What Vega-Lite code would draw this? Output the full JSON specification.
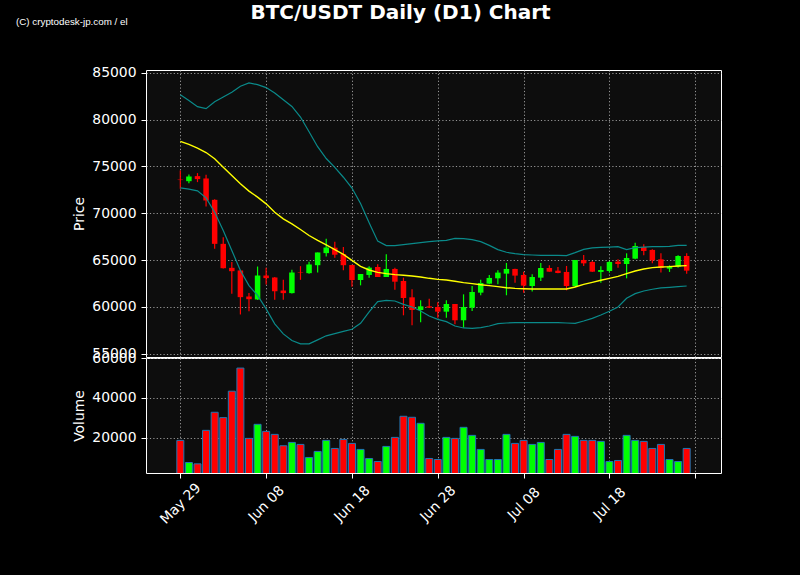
{
  "$schema": "https://vega.github.io/schema/vega-lite/v6.json",
  "background": "black",
  "padding": {"left": 15, "top": 2, "right": 80, "bottom": 50},
  "title": {
    "text": "BTC/USDT Daily (D1) Chart",
    "color": "white",
    "font": "DejaVu Sans",
    "fontSize": 20,
    "fontWeight": "bold",
    "anchor": "middle",
    "frame": "bounds",
    "dx": 32,
    "offset": -6
  },
  "datasets": {
    "ohlc": [
      {"date": "2024-05-29", "open": 73600, "high": 74570, "low": 72620, "close": 73550, "volume": 18570, "upper": 82650, "mid": 77680, "lower": 72720},
      {"date": "2024-05-30", "open": 73430, "high": 74150, "low": 73220, "close": 73930, "volume": 7430, "upper": 82040, "mid": 77350, "lower": 72580},
      {"date": "2024-05-31", "open": 73970, "high": 74290, "low": 73330, "close": 73650, "volume": 6750, "upper": 81390, "mid": 76960, "lower": 72400},
      {"date": "2024-06-01", "open": 73720, "high": 74110, "low": 70730, "close": 71370, "volume": 23630, "upper": 81170, "mid": 76490, "lower": 71650},
      {"date": "2024-06-02", "open": 71440, "high": 71500, "low": 66210, "close": 66740, "volume": 32740, "upper": 81900, "mid": 75820, "lower": 70120},
      {"date": "2024-06-03", "open": 66740, "high": 67450, "low": 64100, "close": 64140, "volume": 30040, "upper": 82420, "mid": 74930, "lower": 68170},
      {"date": "2024-06-04", "open": 64180, "high": 64790, "low": 61400, "close": 63820, "volume": 43370, "upper": 82930, "mid": 74040, "lower": 66030},
      {"date": "2024-06-05", "open": 63900, "high": 63970, "low": 59200, "close": 61050, "volume": 55020, "upper": 83560, "mid": 73150, "lower": 63900},
      {"date": "2024-06-06", "open": 61120, "high": 61480, "low": 59550, "close": 60830, "volume": 19580, "upper": 83930, "mid": 72370, "lower": 62290},
      {"date": "2024-06-07", "open": 60800, "high": 64320, "low": 60760, "close": 63360, "volume": 26670, "upper": 83740, "mid": 71730, "lower": 61230},
      {"date": "2024-06-08", "open": 63360, "high": 64180, "low": 62400, "close": 63080, "volume": 23120, "upper": 83420, "mid": 71010, "lower": 59800},
      {"date": "2024-06-09", "open": 63150, "high": 63200, "low": 60760, "close": 61690, "volume": 21600, "upper": 82850, "mid": 70120, "lower": 58200},
      {"date": "2024-06-10", "open": 61760, "high": 62900, "low": 60760, "close": 61480, "volume": 15860, "upper": 82120, "mid": 69410, "lower": 57130},
      {"date": "2024-06-11", "open": 61480, "high": 63970, "low": 61450, "close": 63680, "volume": 17550, "upper": 81410, "mid": 68880, "lower": 56420},
      {"date": "2024-06-12", "open": 63700, "high": 64360, "low": 62900, "close": 63650, "volume": 16540, "upper": 80280, "mid": 68270, "lower": 56070},
      {"date": "2024-06-13", "open": 63610, "high": 64820, "low": 63540, "close": 64540, "volume": 9960, "upper": 78700, "mid": 67630, "lower": 56070},
      {"date": "2024-06-14", "open": 64460, "high": 65820, "low": 63680, "close": 65820, "volume": 13000, "upper": 77110, "mid": 67100, "lower": 56490},
      {"date": "2024-06-15", "open": 65750, "high": 67280, "low": 65390, "close": 66350, "volume": 18570, "upper": 75850, "mid": 66640, "lower": 56920},
      {"date": "2024-06-16", "open": 66330, "high": 66960, "low": 65250, "close": 65580, "volume": 14510, "upper": 74900, "mid": 66130, "lower": 57150},
      {"date": "2024-06-17", "open": 65650, "high": 66400, "low": 63920, "close": 64460, "volume": 19070, "upper": 73850, "mid": 65610, "lower": 57390},
      {"date": "2024-06-18", "open": 64480, "high": 64500, "low": 62170, "close": 62880, "volume": 17050, "upper": 72700, "mid": 64980, "lower": 57620},
      {"date": "2024-06-19", "open": 62880, "high": 63520, "low": 62310, "close": 63520, "volume": 14010, "upper": 71040, "mid": 64340, "lower": 58260},
      {"date": "2024-06-20", "open": 63420, "high": 64340, "low": 63130, "close": 64200, "volume": 9450, "upper": 68990, "mid": 63950, "lower": 59470},
      {"date": "2024-06-21", "open": 64270, "high": 64560, "low": 63200, "close": 63200, "volume": 7930, "upper": 67030, "mid": 63700, "lower": 60570},
      {"date": "2024-06-22", "open": 63200, "high": 65620, "low": 63200, "close": 64060, "volume": 15530, "upper": 66560, "mid": 63560, "lower": 60710},
      {"date": "2024-06-23", "open": 64060, "high": 64200, "low": 61850, "close": 62700, "volume": 20080, "upper": 66550, "mid": 63450, "lower": 60640},
      {"date": "2024-06-24", "open": 62780, "high": 63130, "low": 59110, "close": 60960, "volume": 30720, "upper": 66650, "mid": 63380, "lower": 60280},
      {"date": "2024-06-25", "open": 61030, "high": 61890, "low": 58040, "close": 59680, "volume": 30210, "upper": 66760, "mid": 63310, "lower": 60000},
      {"date": "2024-06-26", "open": 59680, "high": 60710, "low": 58360, "close": 60070, "volume": 27170, "upper": 66870, "mid": 63200, "lower": 59570},
      {"date": "2024-06-27", "open": 60070, "high": 60890, "low": 59900, "close": 59930, "volume": 9450, "upper": 66970, "mid": 63060, "lower": 59040},
      {"date": "2024-06-28", "open": 60000, "high": 60500, "low": 58860, "close": 59500, "volume": 8940, "upper": 67050, "mid": 62950, "lower": 58680},
      {"date": "2024-06-29", "open": 59500, "high": 60710, "low": 58860, "close": 60320, "volume": 20080, "upper": 67120, "mid": 62880, "lower": 58430},
      {"date": "2024-06-30", "open": 60320, "high": 60330, "low": 58150, "close": 58580, "volume": 19580, "upper": 67330, "mid": 62740, "lower": 57970},
      {"date": "2024-07-01", "open": 58580, "high": 61350, "low": 57790, "close": 60000, "volume": 25150, "upper": 67300, "mid": 62600, "lower": 57760},
      {"date": "2024-07-02", "open": 59930, "high": 62240, "low": 59570, "close": 61600, "volume": 21100, "upper": 67190, "mid": 62490, "lower": 57720},
      {"date": "2024-07-03", "open": 61530, "high": 62920, "low": 61250, "close": 62560, "volume": 14010, "upper": 66980, "mid": 62380, "lower": 57790},
      {"date": "2024-07-04", "open": 62490, "high": 63420, "low": 62420, "close": 63100, "volume": 8940, "upper": 66580, "mid": 62280, "lower": 57970},
      {"date": "2024-07-05", "open": 63060, "high": 63910, "low": 62420, "close": 63670, "volume": 8940, "upper": 66120, "mid": 62170, "lower": 58220},
      {"date": "2024-07-06", "open": 63560, "high": 64700, "low": 61250, "close": 64060, "volume": 21600, "upper": 65840, "mid": 62060, "lower": 58290},
      {"date": "2024-07-07", "open": 64060, "high": 64080, "low": 62600, "close": 63350, "volume": 17050, "upper": 65690, "mid": 61990, "lower": 58330},
      {"date": "2024-07-08", "open": 63420, "high": 63770, "low": 61530, "close": 62280, "volume": 18570, "upper": 65600, "mid": 61950, "lower": 58330},
      {"date": "2024-07-09", "open": 62240, "high": 63490, "low": 61640, "close": 63200, "volume": 16540, "upper": 65550, "mid": 61920, "lower": 58330},
      {"date": "2024-07-10", "open": 63130, "high": 64700, "low": 62780, "close": 64160, "volume": 17550, "upper": 65500, "mid": 61920, "lower": 58330},
      {"date": "2024-07-11", "open": 64160, "high": 64450, "low": 63770, "close": 63770, "volume": 8940, "upper": 65520, "mid": 61920, "lower": 58330},
      {"date": "2024-07-12", "open": 63880, "high": 64270, "low": 63600, "close": 63630, "volume": 14010, "upper": 65520, "mid": 61920, "lower": 58330},
      {"date": "2024-07-13", "open": 63740, "high": 64380, "low": 61780, "close": 62240, "volume": 21600, "upper": 65480, "mid": 61920, "lower": 58290},
      {"date": "2024-07-14", "open": 62240, "high": 65020, "low": 62130, "close": 65020, "volume": 20590, "upper": 65800, "mid": 62130, "lower": 58260},
      {"date": "2024-07-15", "open": 65020, "high": 65550, "low": 64380, "close": 64660, "volume": 18570, "upper": 66150, "mid": 62420, "lower": 58500},
      {"date": "2024-07-16", "open": 64800, "high": 64910, "low": 63740, "close": 63770, "volume": 18570, "upper": 66300, "mid": 62630, "lower": 58790},
      {"date": "2024-07-17", "open": 63740, "high": 64340, "low": 62600, "close": 63950, "volume": 18060, "upper": 66370, "mid": 62850, "lower": 59150},
      {"date": "2024-07-18", "open": 63840, "high": 64910, "low": 63670, "close": 64800, "volume": 7930, "upper": 66400, "mid": 63060, "lower": 59540},
      {"date": "2024-07-19", "open": 64840, "high": 65090, "low": 64200, "close": 64590, "volume": 8440, "upper": 66440, "mid": 63270, "lower": 60000},
      {"date": "2024-07-20", "open": 64590, "high": 65730, "low": 63060, "close": 65230, "volume": 21100, "upper": 66120, "mid": 63560, "lower": 60930},
      {"date": "2024-07-21", "open": 65160, "high": 66870, "low": 65090, "close": 66510, "volume": 18570, "upper": 66330, "mid": 63840, "lower": 61420},
      {"date": "2024-07-22", "open": 66410, "high": 66690, "low": 65520, "close": 65980, "volume": 18060, "upper": 66400, "mid": 64060, "lower": 61710},
      {"date": "2024-07-23", "open": 66090, "high": 66160, "low": 64660, "close": 64980, "volume": 14510, "upper": 66440, "mid": 64200, "lower": 61890},
      {"date": "2024-07-24", "open": 65090, "high": 65730, "low": 63670, "close": 64160, "volume": 16540, "upper": 66440, "mid": 64270, "lower": 62030},
      {"date": "2024-07-25", "open": 64090, "high": 64450, "low": 63740, "close": 64340, "volume": 8940, "upper": 66480, "mid": 64310, "lower": 62100},
      {"date": "2024-07-26", "open": 64310, "high": 65520, "low": 64200, "close": 65440, "volume": 7930, "upper": 66580, "mid": 64380, "lower": 62170},
      {"date": "2024-07-27", "open": 65440, "high": 65730, "low": 63560, "close": 63880, "volume": 14510, "upper": 66580, "mid": 64410, "lower": 62240}
    ]
  },
  "spacing": 1,
  "bounds": "flush",
  "vconcat": [
    {
      "width": 575,
      "height": 287,
      "title": {
        "text": "(C) cryptodesk-jp.com / el",
        "color": "white",
        "font": "Liberation Sans",
        "fontSize": 9.8,
        "fontWeight": "normal",
        "anchor": "start",
        "frame": "group",
        "dx": -130,
        "offset": 39
      },
      "data": {"name": "ohlc"},
      "encoding": {
        "x": {
          "field": "date",
          "type": "temporal",
          "scale": {
            "type": "utc",
            "padding": 0,
            "domain": [
              {"year": 2024, "month": 5, "date": 25, "utc": true},
              {"year": 2024, "month": 7, "date": 31, "utc": true}
            ]
          },
          "axis": {
            "title": null,
            "labels": false,
            "ticks": false,
            "values": [
              {"year": 2024, "month": 5, "date": 29, "utc": true},
              {"year": 2024, "month": 6, "date": 8, "utc": true},
              {"year": 2024, "month": 6, "date": 18, "utc": true},
              {"year": 2024, "month": 6, "date": 28, "utc": true},
              {"year": 2024, "month": 7, "date": 8, "utc": true},
              {"year": 2024, "month": 7, "date": 18, "utc": true},
              {"year": 2024, "month": 7, "date": 28, "utc": true}
            ]
          }
        }
      },
      "layer": [
        {
          "mark": {"type": "rule", "strokeWidth": 1.2},
          "encoding": {
            "y": {
              "field": "low",
              "type": "quantitative",
              "scale": {"domain": [54660, 85300], "nice": false, "zero": false, "padding": 0},
              "axis": {"title": "Price", "format": "d", "values": [55000, 60000, 65000, 70000, 75000, 80000, 85000]}
            },
            "y2": {"field": "high"},
            "color": {"condition": {"test": "datum.close >= datum.open", "value": "#00ff00"}, "value": "#ff0000"}
          }
        },
        {
          "mark": {"type": "bar", "size": 5.5},
          "encoding": {
            "y": {"field": "open", "type": "quantitative"},
            "y2": {"field": "close"},
            "color": {"condition": {"test": "datum.close >= datum.open", "value": "#00ff00"}, "value": "#ff0000"}
          }
        },
        {
          "mark": {"type": "line", "color": "#0a8a8a", "strokeWidth": 1.2},
          "encoding": {"y": {"field": "upper", "type": "quantitative"}}
        },
        {
          "mark": {"type": "line", "color": "#0a8a8a", "strokeWidth": 1.2},
          "encoding": {"y": {"field": "lower", "type": "quantitative"}}
        },
        {
          "mark": {"type": "line", "color": "#ffff00", "strokeWidth": 1.4},
          "encoding": {"y": {"field": "mid", "type": "quantitative"}}
        }
      ]
    },
    {
      "width": 575,
      "height": 115,
      "data": {"name": "ohlc"},
      "mark": {"type": "bar", "size": 7, "stroke": "#1f77b4", "strokeWidth": 1, "clip": true},
      "encoding": {
        "x": {
          "field": "date",
          "type": "temporal",
          "scale": {
            "type": "utc",
            "padding": 0,
            "domain": [
              {"year": 2024, "month": 5, "date": 25, "utc": true},
              {"year": 2024, "month": 7, "date": 31, "utc": true}
            ]
          },
          "axis": {
            "title": null,
            "labelAngle": -45,
            "labelAlign": "center",
            "labelBaseline": "middle",
            "labelPadding": 25.5,
            "labelFlush": false,
            "labelOverlap": false,
            "labelExpr": "datum.value < utc(2024, 6, 25) ? utcFormat(datum.value, '%b %d') : ''",
            "values": [
              {"year": 2024, "month": 5, "date": 29, "utc": true},
              {"year": 2024, "month": 6, "date": 8, "utc": true},
              {"year": 2024, "month": 6, "date": 18, "utc": true},
              {"year": 2024, "month": 6, "date": 28, "utc": true},
              {"year": 2024, "month": 7, "date": 8, "utc": true},
              {"year": 2024, "month": 7, "date": 18, "utc": true},
              {"year": 2024, "month": 7, "date": 28, "utc": true}
            ]
          }
        },
        "y": {
          "field": "volume",
          "type": "quantitative",
          "scale": {"domain": [2130, 60100], "nice": false, "zero": false, "padding": 0},
          "axis": {"title": "Volume", "format": "d", "values": [20000, 40000, 60000]}
        },
        "color": {"condition": {"test": "datum.close >= datum.open", "value": "#00ff00"}, "value": "#ff0000"}
      }
    }
  ],
  "config": {
    "scale": {"continuousPadding": 0},
    "view": {"fill": "#0d0d0d", "stroke": "white", "strokeWidth": 1},
    "axis": {
      "domain": false,
      "labelColor": "white",
      "titleColor": "white",
      "tickColor": "white",
      "tickSize": 5,
      "labelPadding": 5,
      "titlePadding": 5,
      "labelFont": "DejaVu Sans",
      "titleFont": "DejaVu Sans",
      "labelFontSize": 13.9,
      "titleFontSize": 13.9,
      "titleFontWeight": "normal",
      "labelOverlap": false,
      "grid": true,
      "gridColor": "#b0b0b0",
      "gridDash": [1.2, 2.2],
      "gridWidth": 1,
      "gridOpacity": 0.85
    }
  }
}
